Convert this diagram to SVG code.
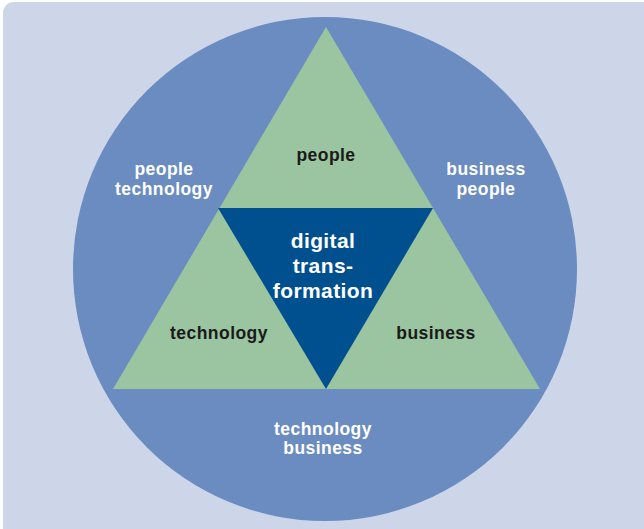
<svg xmlns="http://www.w3.org/2000/svg" width="644" height="529" viewBox="0 0 644 529">
<style>
.lbl{font-family:"Liberation Sans",Arial,sans-serif;font-weight:bold;font-size:17.5px;letter-spacing:0.45px;text-anchor:middle}
.w{fill:#ffffff}
.d{fill:#1a1a1a}
.c{font-size:21px;letter-spacing:0.4px}
</style>
<rect x="0" y="0" width="644" height="529" fill="#ffffff"/>
<rect x="3" y="2" width="660" height="550" rx="11" fill="#cdd5e9"/>
<g id="circle">
<circle cx="325" cy="269" r="252" fill="#6a8cc0"/>
<text class="lbl w" x="164" y="175">people</text>
<text class="lbl w" x="164" y="194.5">technology</text>
<text class="lbl w" x="486" y="175">business</text>
<text class="lbl w" x="486" y="194.5">people</text>
<text class="lbl w" x="323" y="434.5">technology</text>
<text class="lbl w" x="323" y="454">business</text>
</g>
<g id="triangle">
<polygon points="326,27 113,389 540,389" fill="#9bc4a0"/>
</g>
<g id="people">
<text class="lbl d" x="326" y="161">people</text>
</g>
<g id="technology">
<text class="lbl d" x="219" y="339">technology</text>
</g>
<g id="business">
<text class="lbl d" x="436" y="339">business</text>
</g>
<g id="digital-transformation">
<polygon points="218,208 433,208 326,389" fill="#00508f"/>
<text class="lbl w c" x="323" y="248">digital</text>
<text class="lbl w c" x="323" y="273">trans-</text>
<text class="lbl w c" x="323" y="298">formation</text>
</g>
<g id="connectors"/>
</svg>
